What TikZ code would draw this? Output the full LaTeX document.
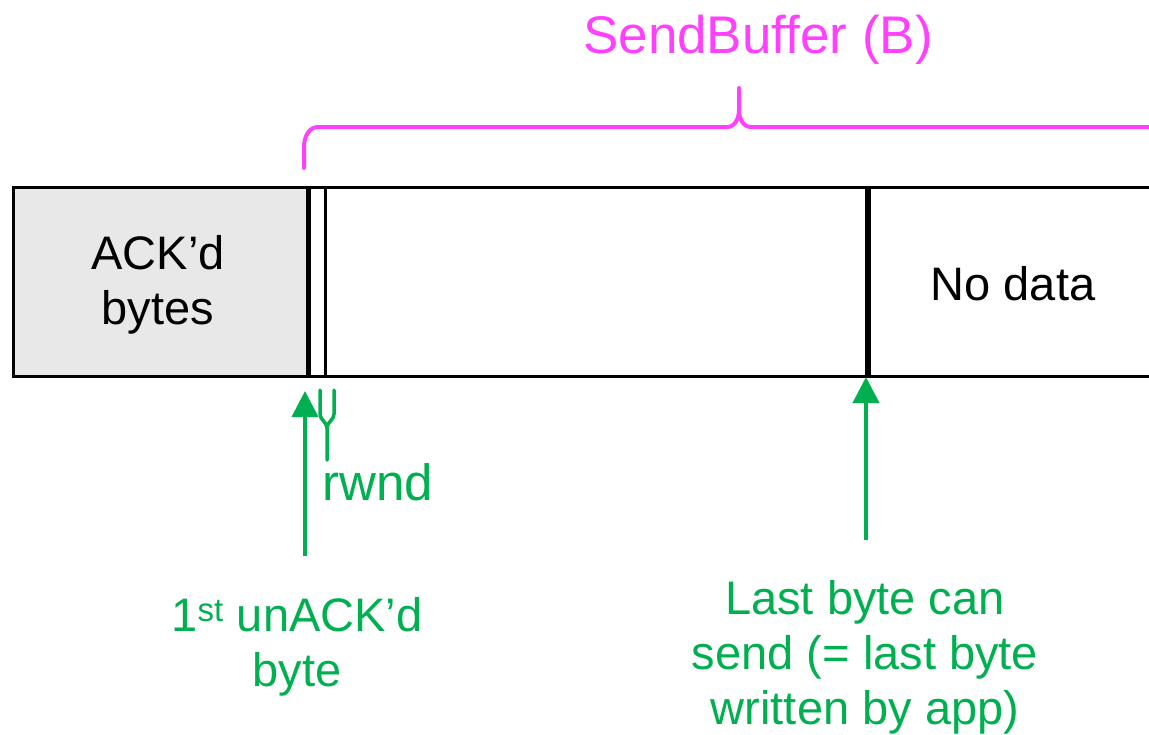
\documentclass[tikz,border=0pt]{standalone}
\usepackage{fontspec}
\setmainfont{Liberation Sans}
\usetikzlibrary{arrows.meta}
\definecolor{grn}{HTML}{00B050}
\definecolor{mag}{HTML}{FF40FF}
\definecolor{ackgray}{HTML}{E8E8E8}
\begin{document}
\begin{tikzpicture}[x=1pt,y=-1pt,
  buf/.style={draw=black,line width=3pt,minimum height=189pt,inner sep=0pt},
  lbl/.style={font=\fontsize{47}{55}\selectfont,align=center,anchor=base,inner sep=0pt},
  gtxt/.style={lbl,text=grn},
  garrow/.style={draw=grn,line width=4pt,-{Triangle[width=26pt,length=26pt]}},
  brace/.style={draw=mag,line width=4pt,line join=round,line cap=round}]
\useasboundingbox (0,0) rectangle (1149,734);
% buffer cells
\node[buf,fill=ackgray,minimum width=294pt] (ack) at (160,281.5) {};
\node[buf,minimum width=16pt] (rw) at (317,281.5) {};
\node[buf,minimum width=541pt] (unsent) at (595.5,281.5) {};
\node[buf,minimum width=300pt] (nodata) at (1019,281.5) {};
% labels (base = baseline of last line)
\node[lbl] (acktxt) at (158,324) {ACK’d\\bytes};
\node[lbl] (nodatatxt) at (1013,300) {No data};
\node[lbl,text=mag,font=\fontsize{53}{60}\selectfont] (sb) at (758,53) {SendBuffer (B)};
\node[gtxt,anchor=base west,font=\fontsize{51}{55}\selectfont] (rwtxt) at (322,500) {rwnd};
\node[gtxt] (first) at (297,686) {1\textsuperscript{st} unACK’d\\byte};
\node[gtxt] (last) at (865,724) {Last byte can\\send (= last byte\\written by app)};
% brace
\draw[brace] (304,168) -- (304,147) to[out=90,in=180] (318,127) -- (727,127)
  to[out=0,in=-90] (739,110) -- (739,88);
\draw[brace] (739,110) to[out=-90,in=180] (751,127) -- (1165,127);
% arrows
\coordinate (a1tail) at (305,556);
\coordinate (a1tip) at (305,391);
\draw[garrow] (a1tail) -- (a1tip);
\coordinate (a2tail) at (866,540);
\coordinate (a2tip) at (866,377);
\draw[garrow] (a2tail) -- (a2tip);
% rwnd marker
\draw[grn,line width=3.5pt,line cap=round] (320,390) -- (320,414) to[out=-90,in=90] (327,428) -- (327,460);
\draw[grn,line width=3.5pt,line cap=round] (334,390) -- (334,414) to[out=-90,in=90] (327,428);
\end{tikzpicture}
\end{document}
